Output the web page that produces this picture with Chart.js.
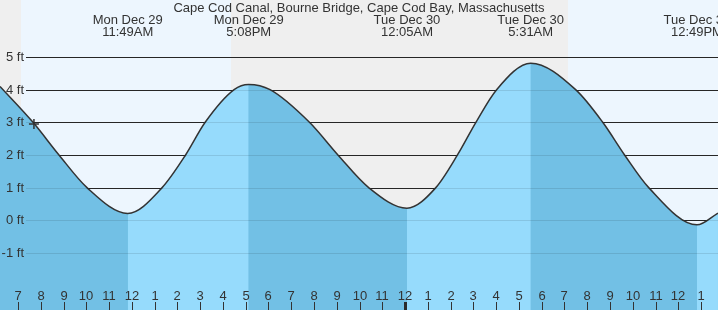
<!DOCTYPE html>
<html>
<head>
<meta charset="utf-8">
<script src="https://cdn.jsdelivr.net/npm/chart.js@4/dist/chart.umd.min.js"></script>
<style>
  html, body { margin: 0; padding: 0; overflow: hidden; background: #efefef; }
  #tideChart { display: block; }
</style>
</head>
<body>
<canvas id="tideChart" width="718" height="310"></canvas>
<script>
// Tide curve. Hours counted from Mon Dec 29 00:00.
var tideHours = [6.21, 7.66, 8.80, 10.03, 11.82, 13.33, 14.36, 15.22, 16.49, 17.13, 18.07, 19.80, 21.05, 22.40,
  24.08, 25.35, 26.30, 27.11, 28.02, 29.52, 31.49, 32.68, 33.64, 34.70, 36.82, 37.74];
var tideFeet = [4.10, 3.0, 2.0, 1.0, 0.21, 1.0, 2.0, 3.0, 4.0, 4.16, 4.0, 3.0, 2.0, 1.0,
  0.37, 1.0, 2.0, 3.0, 4.0, 4.81, 4.0, 3.0, 2.0, 1.0, -0.14, 0.22];

// "now" marker
var nowHour = [7.70];
var nowFeet = [2.95];

// high / low events shown at the top
var eventHours = [11.817, 17.133, 24.083, 29.517, 36.817];
var eventDays = ['Mon Dec 29', 'Mon Dec 29', 'Tue Dec 30', 'Tue Dec 30', 'Tue Dec 30'];
var eventTimes = ['11:49AM', '5:08PM', '12:05AM', '5:31AM', '12:49PM'];

// daylight bands
var sunriseHours = [7.13, 31.15];
var sunsetHours = [16.35, 40.37];

// axes
var feetTicks = [-1, 0, 1, 2, 3, 4, 5];
var feetLabels = ['-1 ft', '0 ft', '1 ft', '2 ft', '3 ft', '4 ft', '5 ft'];
var hourTicks = [7, 8, 9, 10, 11, 12, 13, 14, 15, 16, 17, 18, 19, 20, 21, 22, 23, 24,
  25, 26, 27, 28, 29, 30, 31, 32, 33, 34, 35, 36, 37];
var hourLabels = ['7', '8', '9', '10', '11', '12', '1', '2', '3', '4', '5', '6', '7', '8', '9', '10', '11', '12',
  '1', '2', '3', '4', '5', '6', '7', '8', '9', '10', '11', '12', '1'];

var TITLE = 'Cape Cod Canal, Bourne Bridge, Cape Cod Bay, Massachusetts';
var FONT = '13px "Liberation Sans", Arial, sans-serif';
var TEXT = '#333';
var NIGHT = '#efefef';
var DAY = '#edf6fe';
var RISING = '#96dbfc';
var FALLING = '#72c0e5';

var tideDecor = {
  id: 'tideDecor',
  beforeDraw: function(chart) {
    var ctx = chart.ctx, xs = chart.scales.x;
    ctx.save();
    ctx.fillStyle = NIGHT;
    ctx.fillRect(0, 0, chart.width, chart.height);
    ctx.fillStyle = DAY;
    for (var i = 0; i < sunriseHours.length; i++) {
      var x0 = Math.round(xs.getPixelForValue(sunriseHours[i]));
      var x1 = Math.round(xs.getPixelForValue(sunsetHours[i]));
      ctx.fillRect(x0, 0, x1 - x0, chart.height);
    }
    ctx.restore();
    this._grid(chart, '#2b2b2b');
  },
  _grid: function(chart, color) {
    var ctx = chart.ctx, ys = chart.scales.y;
    ctx.save();
    ctx.strokeStyle = color;
    ctx.lineWidth = 1;
    feetTicks.forEach(function(v) {
      var py = Math.round(ys.getPixelForValue(v)) + 0.5;
      ctx.beginPath();
      ctx.moveTo(26, py);
      ctx.lineTo(chart.width, py);
      ctx.stroke();
    });
    ctx.restore();
  },
  afterDatasetsDraw: function(chart) {
    var ctx = chart.ctx, xs = chart.scales.x, ys = chart.scales.y;
    // faint grid showing through the water
    this._grid(chart, 'rgba(0,0,0,0.1)');

    ctx.save();
    ctx.font = FONT;
    ctx.fillStyle = TEXT;

    // y labels
    ctx.textAlign = 'right';
    ctx.textBaseline = 'middle';
    feetTicks.forEach(function(v, i) {
      ctx.fillText(feetLabels[i], 24, ys.getPixelForValue(v) + 0.5);
    });

    // hour ticks and labels
    ctx.textAlign = 'center';
    ctx.textBaseline = 'alphabetic';
    ctx.strokeStyle = '#333';
    hourTicks.forEach(function(h, i) {
      var px = Math.round(xs.getPixelForValue(h));
      ctx.fillText(hourLabels[i], px, 300);
      if (h % 24 === 0) {
        ctx.fillStyle = '#2b2b2b';
        ctx.fillRect(px - 1, 302, 3, 8);
        ctx.fillStyle = TEXT;
      } else {
        ctx.beginPath();
        ctx.lineWidth = 1;
        ctx.moveTo(px + 0.5, 302);
        ctx.lineTo(px + 0.5, 310);
        ctx.stroke();
      }
    });

    // title and event labels
    ctx.fillText(TITLE, chart.width / 2, 12);
    eventHours.forEach(function(h, i) {
      var px = xs.getPixelForValue(h);
      ctx.fillText(eventDays[i], px, 24);
      ctx.fillText(eventTimes[i], px, 36);
    });
    ctx.restore();
  }
};

var tidePoints = tideHours.map(function(h, i) { return { x: h, y: tideFeet[i] }; });
var nowPoints = nowHour.map(function(h, i) { return { x: h, y: nowFeet[i] }; });

new Chart(document.getElementById('tideChart'), {
  type: 'line',
  data: {
    datasets: [
      {
        // now marker
        data: nowPoints,
        showLine: false,
        pointStyle: 'cross',
        pointRadius: 5,
        pointBorderWidth: 1.5,
        pointBorderColor: '#333',
        fill: false
      },
      {
        // rising tide, filled over the base water
        data: tidePoints,
        borderWidth: 0,
        borderColor: 'rgba(0,0,0,0)',
        pointRadius: 0,
        cubicInterpolationMode: 'monotone',
        fill: 'start',
        backgroundColor: 'rgba(0,0,0,0)',
        segment: {
          backgroundColor: function(c) {
            return c.p1.parsed.y > c.p0.parsed.y ? RISING : 'rgba(0,0,0,0)';
          }
        }
      },
      {
        // base water (falling colour) and the curve itself
        data: tidePoints,
        borderColor: '#333',
        borderWidth: 1.5,
        pointRadius: 0,
        cubicInterpolationMode: 'monotone',
        fill: 'start',
        backgroundColor: FALLING
      }
    ]
  },
  options: {
    responsive: false,
    animation: false,
    devicePixelRatio: 1,
    layout: { padding: 0, autoPadding: false },
    plugins: {
      legend: { display: false },
      tooltip: { enabled: false },
      filler: { drawTime: 'beforeDatasetsDraw' }
    },
    scales: {
      x: { type: 'linear', min: 6.2095, max: 37.742, display: false },
      y: { type: 'linear', min: -2.747, max: 6.745, display: false }
    }
  },
  plugins: [tideDecor]
});
</script>
</body>
</html>
